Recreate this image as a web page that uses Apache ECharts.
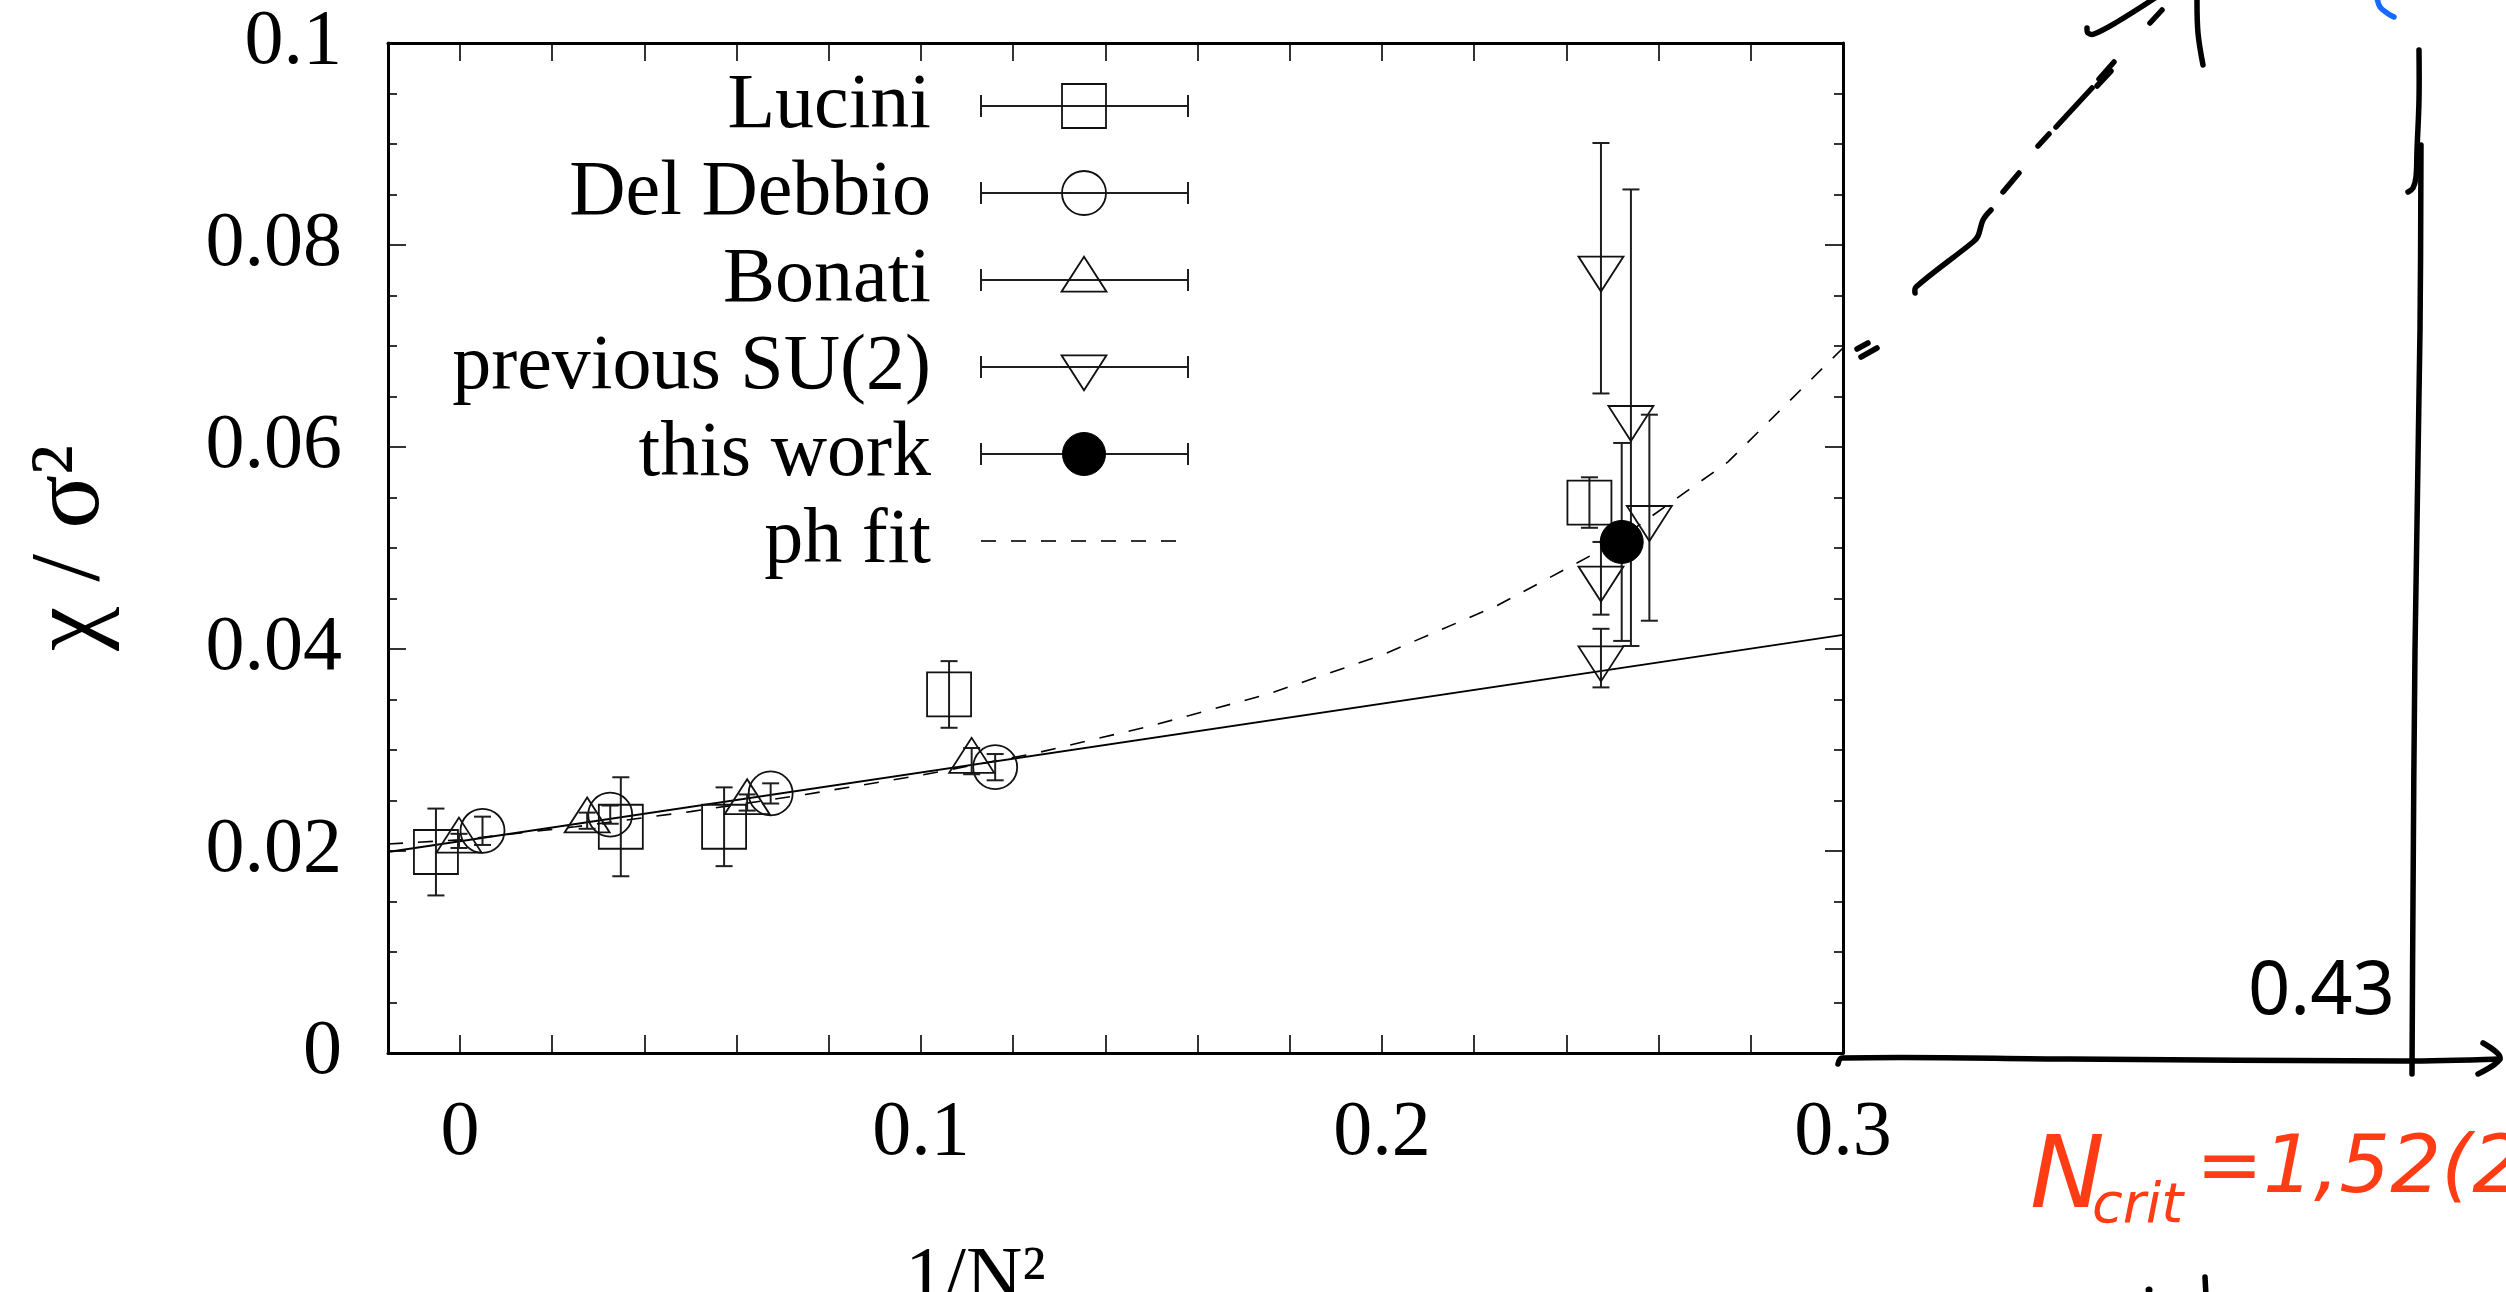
<!DOCTYPE html>
<html>
<head>
<meta charset="utf-8">
<title>chi / sigma^2 versus 1/N^2</title>
<style>
  html, body { margin: 0; padding: 0; background: #ffffff; }
  #chart { width: 2506px; height: 1292px; }
</style>
<script src="https://cdn.jsdelivr.net/npm/echarts@6/dist/echarts.min.js"></script>
</head>
<body>
<div id="chart"></div>
<script>
// ---- data: topological susceptibility chi/sigma^2 against 1/N^2 ----
const luciniX   = [-0.0052, 0.0349, 0.0573, 0.1061, 0.2450];
const luciniY   = [0.0199, 0.0224, 0.0224, 0.0355, 0.0545];
const luciniErr = [0.0043, 0.0049, 0.0039, 0.0033, 0.0025];

const delDebbioX   = [0.0049, 0.0326, 0.0674, 0.1161];
const delDebbioY   = [0.0220, 0.0236, 0.0257, 0.0283];
const delDebbioErr = [0.0014, 0.0009, 0.0010, 0.0013];

const bonatiX   = [-0.0002, 0.0276, 0.0623, 0.1110];
const bonatiY   = [0.0210, 0.0230, 0.0248, 0.0289];
const bonatiErr = [0.0007, 0.0008, 0.0008, 0.0013];

const prevSU2X   = [0.2475, 0.2540, 0.2580, 0.2475, 0.2475];
const prevSU2Y   = [0.0777, 0.0629, 0.0530, 0.0470, 0.0391];
const prevSU2Err = [0.0124, 0.0226, 0.0102, 0.0036, 0.0029];

const thisWorkX   = [0.2520];
const thisWorkY   = [0.0506];
const thisWorkErr = [0.0098];

// straight-line fit
const linFitX = [-0.0156, 0.3];
const linFitY = [0.0199, 0.0414];

// "ph fit" curve
const phFitX = [-0.0156, 0, 0.025, 0.05, 0.075, 0.1, 0.125, 0.15, 0.175, 0.2, 0.225, 0.25, 0.275, 0.3];
const phFitY = [0.0207, 0.0211, 0.0224, 0.0239, 0.0256, 0.0275, 0.0297, 0.0324, 0.0355, 0.0394, 0.0443, 0.0504, 0.0585, 0.0698];

const legendNames = ['Lucini', 'Del Debbio', 'Bonati', 'previous SU(2)', 'this work', 'ph fit'];

const xTickValues  = [0, 0.02, 0.04, 0.06, 0.08, 0.1, 0.12, 0.14, 0.16, 0.18, 0.2, 0.22, 0.24, 0.26, 0.28, 0.3];
const xLabelValues = [0, 0.1, 0.2, 0.3];
const xRange = [-0.0156, 0.3];
const yRange = [0, 0.1];
const yStep  = 0.02;

const xTitle = '1/N\u00B2';
const yTitle = '\u03C7 / \u03C3\u00B2';

// handwritten notes next to the plot
const noteValue = '0.43';
const noteNcrit = ['N', 'crit', '=1,52(2'];

// ---- styling ----
const SERIF = "'Liberation Serif', 'DejaVu Serif', serif";
const FONT_SIZE = 78;
const INK = '#000000';
const BAR = '#1e1e1e';
const CAP = 8.5;
const PEN = 5.5;
const RED = '#ff3c14';
const BLUE = '#1769ff';

function marker(kind, cx, cy) {
  const st = { fill: 'none', stroke: '#111', lineWidth: 1.8 };
  if (kind === 'square') {
    return { type: 'rect', shape: { x: cx - 22, y: cy - 22, width: 44, height: 44 }, style: st };
  }
  if (kind === 'circle') {
    return { type: 'circle', shape: { cx: cx, cy: cy, r: 22 }, style: st };
  }
  if (kind === 'up') {
    return { type: 'polygon', shape: { points: [[cx, cy - 23.3], [cx - 22.5, cy + 11.7], [cx + 22.5, cy + 11.7]] }, style: st };
  }
  if (kind === 'down') {
    return { type: 'polygon', shape: { points: [[cx - 22.5, cy - 11.7], [cx + 22.5, cy - 11.7], [cx, cy + 23.3]] }, style: st };
  }
  return { type: 'circle', shape: { cx: cx, cy: cy, r: 21.5 }, style: { fill: '#000', stroke: '#000', lineWidth: 1 } };
}

function errorBarSeries(name, xs, ys, es, kind) {
  return {
    type: 'custom',
    name: name,
    xAxisIndex: 0,
    yAxisIndex: 0,
    silent: true,
    clip: false,
    z: 4,
    encode: { x: 0, y: 1 },
    data: xs.map((x, i) => [x, ys[i], es[i]]),
    renderItem: function (params, api) {
      const x = api.value(0), y = api.value(1), e = api.value(2);
      const c = api.coord([x, y]);
      const t = api.coord([x, y + e]);
      const b = api.coord([x, y - e]);
      const ls = { stroke: BAR, lineWidth: 2 };
      return {
        type: 'group',
        children: [
          { type: 'line', shape: { x1: c[0], y1: t[1], x2: c[0], y2: b[1] }, style: ls },
          { type: 'line', shape: { x1: c[0] - CAP, y1: t[1], x2: c[0] + CAP, y2: t[1] }, style: ls },
          { type: 'line', shape: { x1: c[0] - CAP, y1: b[1], x2: c[0] + CAP, y2: b[1] }, style: ls },
          marker(kind, c[0], c[1])
        ]
      };
    }
  };
}

const trim = v => String(+(+v).toFixed(4));

const axisLineStyle = { show: true, onZero: false, lineStyle: { color: INK, width: 3 } };
const tickStyle = { color: INK, width: 1.6 };

// ---- legend (text right-aligned, error-bar sample to its right) ----
const legendKinds = ['square', 'circle', 'up', 'down', 'filled', null];
const legendTop = 106, legendStep = 87;
const legendTextRight = 931, sampleL = 981, sampleR = 1188, sampleMid = 1084;
const legendChildren = [];
legendNames.forEach((name, i) => {
  const yy = legendTop + i * legendStep;
  legendChildren.push({
    type: 'text', x: legendTextRight, y: yy + 1,
    style: { text: name, font: FONT_SIZE + 'px ' + SERIF, fill: INK,
             align: 'right', verticalAlign: 'middle', textAlign: 'right', textVerticalAlign: 'middle' }
  });
  const kind = legendKinds[i];
  if (kind) {
    const ls = { stroke: BAR, lineWidth: 2 };
    legendChildren.push({ type: 'line', shape: { x1: sampleL, y1: yy, x2: sampleR, y2: yy }, style: ls });
    legendChildren.push({ type: 'line', shape: { x1: sampleL, y1: yy - 11, x2: sampleL, y2: yy + 11 }, style: ls });
    legendChildren.push({ type: 'line', shape: { x1: sampleR, y1: yy - 11, x2: sampleR, y2: yy + 11 }, style: ls });
    legendChildren.push(marker(kind, sampleMid, yy));
  } else {
    legendChildren.push({ type: 'line', shape: { x1: sampleL, y1: yy, x2: sampleR, y2: yy },
                          style: { stroke: INK, lineWidth: 1.6, lineDash: [15, 15] } });
  }
});

// ---- pen strokes drawn beside the plot ----
const penStrokes = [
  [[1857, 349], [1868, 343]],
  [[1861, 357], [1877, 348]],
  [[1915, 293], [1916, 287], [1973, 242], [1978, 236], [1983, 220], [1991, 210]],
  [[2003, 192], [2019, 173]],
  [[2038, 146], [2049, 134]],
  [[2056, 127], [2092, 88]],
  [[2097, 86], [2111, 71]],
  [[2099, 79], [2114, 62]],
  [[2150, 23], [2162, 10]],
  [[2087, 28], [2088, 33], [2094, 34], [2117, 22], [2155, -2]],
  [[2197, -2], [2198, 33], [2203, 65]],
  [[2419, 50], [2419, 100], [2417, 150], [2416, 177], [2413, 188], [2408, 192]],
  [[2421, 145], [2420, 330], [2415, 650], [2413, 900], [2412, 1074]],
  [[1838, 1064], [1842, 1058], [2070, 1059], [2403, 1061], [2500, 1059]],
  [[2483, 1043], [2500, 1058], [2478, 1074]],
  [[2205, 1277], [2206, 1296]]
];
const blueStrokes = [
  [[2377, -2], [2380, 7], [2387, 13], [2394, 17]]
];

const penChildren = [];
penStrokes.forEach(pts => penChildren.push({
  type: 'polyline', shape: { points: pts, smooth: 0.35 },
  style: { stroke: INK, lineWidth: PEN, lineCap: 'round', lineJoin: 'round', fill: null }
}));
blueStrokes.forEach(pts => penChildren.push({
  type: 'polyline', shape: { points: pts, smooth: 0.35 },
  style: { stroke: BLUE, lineWidth: PEN, lineCap: 'round', lineJoin: 'round', fill: null }
}));
penChildren.push({ type: 'circle', shape: { cx: 2149, cy: 1290, r: 3.5 }, style: { fill: INK } });

const HAND = "'DejaVu Sans', 'Noto Sans', sans-serif";
penChildren.push({
  type: 'text', x: 2248, y: 993,
  style: { text: noteValue, font: "74px 'Noto Sans', 'DejaVu Sans', sans-serif", fill: INK,
           align: 'left', verticalAlign: 'middle', textAlign: 'left', textVerticalAlign: 'middle' }
});
penChildren.push({
  type: 'text', x: 2030, y: 1181,
  style: { text: noteNcrit[0], font: 'italic 100px ' + HAND, fill: RED,
           align: 'left', verticalAlign: 'middle', textAlign: 'left', textVerticalAlign: 'middle' }
});
penChildren.push({
  type: 'text', x: 2092, y: 1207,
  style: { text: noteNcrit[1], font: 'italic 56px ' + HAND, fill: RED,
           align: 'left', verticalAlign: 'middle', textAlign: 'left', textVerticalAlign: 'middle' }
});
penChildren.push({
  type: 'text', x: 2196, y: 1171,
  style: { text: noteNcrit[2], font: 'italic 80px ' + HAND, fill: RED,
           align: 'left', verticalAlign: 'middle', textAlign: 'left', textVerticalAlign: 'middle' }
});

// ---- chart ----
const chart = echarts.init(document.getElementById('chart'), null, { renderer: 'canvas' });

const option = {
  animation: false,
  backgroundColor: '#ffffff',
  grid: { left: 388, right: 663, top: 43, bottom: 239, containLabel: false, outerBoundsMode: 'none' },
  xAxis: [
    {
      type: 'value', position: 'bottom', min: xRange[0], max: xRange[1],
      axisLine: axisLineStyle,
      axisTick: { show: true, inside: true, length: 18, customValues: xTickValues, lineStyle: tickStyle },
      axisLabel: { show: true, customValues: xLabelValues, margin: 42, color: INK,
                   fontFamily: SERIF, fontSize: FONT_SIZE, formatter: trim },
      splitLine: { show: false },
      name: xTitle, nameLocation: 'middle', nameGap: 188,
      nameTextStyle: { color: INK, fontFamily: SERIF, fontSize: FONT_SIZE, padding: [0, 280, 0, 0] }
    },
    {
      type: 'value', position: 'top', min: xRange[0], max: xRange[1],
      axisLine: axisLineStyle,
      axisTick: { show: true, inside: true, length: 18, customValues: xTickValues, lineStyle: tickStyle },
      axisLabel: { show: false },
      splitLine: { show: false }
    }
  ],
  yAxis: [
    {
      type: 'value', position: 'left', min: yRange[0], max: yRange[1], interval: yStep,
      axisLine: axisLineStyle,
      axisTick: { show: true, inside: true, length: 18, lineStyle: tickStyle },
      minorTick: { show: true, splitNumber: 4, length: 9, lineStyle: tickStyle },
      axisLabel: { show: true, margin: 46, color: INK, fontFamily: SERIF, fontSize: FONT_SIZE, formatter: trim },
      splitLine: { show: false }, minorSplitLine: { show: false },
      name: yTitle, nameLocation: 'middle', nameGap: 266, nameRotate: 90,
      nameTextStyle: { color: INK, fontFamily: SERIF, fontSize: 100 }
    },
    {
      type: 'value', position: 'right', min: yRange[0], max: yRange[1], interval: yStep,
      axisLine: axisLineStyle,
      axisTick: { show: true, inside: true, length: 18, lineStyle: tickStyle },
      minorTick: { show: true, splitNumber: 4, length: 9, lineStyle: tickStyle },
      axisLabel: { show: false },
      splitLine: { show: false }, minorSplitLine: { show: false }
    }
  ],
  series: [
    {
      type: 'line', name: 'linear fit', xAxisIndex: 0, yAxisIndex: 0, silent: true, z: 3,
      data: linFitX.map((x, i) => [x, linFitY[i]]),
      showSymbol: false, symbol: 'none',
      lineStyle: { color: INK, width: 1.8 }
    },
    {
      type: 'line', name: legendNames[5], xAxisIndex: 0, yAxisIndex: 0, silent: true, z: 3,
      data: phFitX.map((x, i) => [x, phFitY[i]]),
      showSymbol: false, symbol: 'none',
      lineStyle: { color: INK, width: 1.6, type: [15, 15] }
    },
    errorBarSeries(legendNames[0], luciniX, luciniY, luciniErr, 'square'),
    errorBarSeries(legendNames[1], delDebbioX, delDebbioY, delDebbioErr, 'circle'),
    errorBarSeries(legendNames[2], bonatiX, bonatiY, bonatiErr, 'up'),
    errorBarSeries(legendNames[3], prevSU2X, prevSU2Y, prevSU2Err, 'down'),
    errorBarSeries(legendNames[4], thisWorkX, thisWorkY, thisWorkErr, 'filled')
  ],
  graphic: [
    { type: 'group', silent: true, children: legendChildren },
    { type: 'group', silent: true, children: penChildren }
  ]
};

chart.setOption(option);
</script>
</body>
</html>
